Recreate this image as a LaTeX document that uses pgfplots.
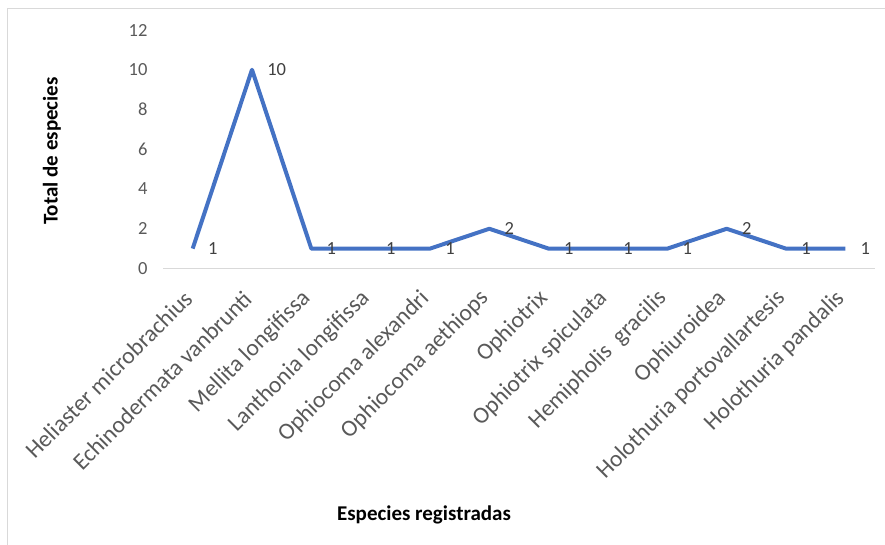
\documentclass[border=0pt]{standalone}
\usepackage{fontspec}
\setmainfont{Carlito}
\usepackage{pgfplots}
\pgfplotsset{compat=1.18}
\definecolor{serie}{HTML}{4472C4}
\definecolor{txtgray}{HTML}{595959}
\definecolor{lblgray}{HTML}{404040}
\definecolor{framegray}{HTML}{D9D9D9}
\begin{document}
\begin{tikzpicture}[x=1pt,y=1pt]
\useasboundingbox (0,0) rectangle (885,-545);
% chart area border (top and left edges)
\draw[framegray, line width=1.2pt] (7.5,-545) -- (7.5,-8.5) -- (885,-8.5);
\begin{axis}[
  at={(163pt,-268.5pt)}, anchor=south west,
  scale only axis, width=712pt, height=238.5pt,
  xmin=-0.5, xmax=11.5, ymin=0, ymax=12,
  axis x line*=bottom, axis y line*=left,
  x axis line style={draw=framegray, line width=1pt, -},
  y axis line style={draw=none},
  major tick length=0pt,
  ytick={0,2,...,12},
  xtick={0,...,11},
  xticklabels={Heliaster microbrachius, Echinodermata vanbrunti, Mellita longifissa,
    Lanthonia longifissa, Ophiocoma alexandri, Ophiocoma aethiops, Ophiotrix,
    Ophiotrix spiculata, Hemipholis\ \ gracilis, Ophiuroidea,
    Holothuria portovallartesis, Holothuria pandalis},
  /pgf/number format/assume math mode=true,
  yticklabel style={font=\fontsize{18.5}{20}\selectfont, text=txtgray, xshift=-12pt},
  xticklabel style={font=\fontsize{23.5}{26}\selectfont, text=txtgray,
    xshift=-2pt, yshift=-24pt, rotate=45, anchor=east},
  xlabel={Especies registradas},
  ylabel={Total de especies},
  xlabel style={font=\bfseries\fontsize{21}{24}\selectfont, at={(axis description cs:0.3666,-1.0335)}, anchor=center},
  ylabel style={font=\bfseries\fontsize{21}{24}\selectfont, at={(axis description cs:-0.1559,0.4927)}, anchor=center, rotate=0},
  nodes near coords,
  nodes near coords style={anchor=west, xshift=10pt, yshift=0pt,
    font=\fontsize{18.5}{20}\selectfont, text=lblgray},
  point meta=explicit symbolic,
  clip=false,
]
\addplot[serie, line width=4pt, line join=round, mark=none] coordinates {
  (0,1) [1] (1,10) [10] (2,1) [1] (3,1) [1] (4,1) [1] (5,2) [2]
  (6,1) [1] (7,1) [1] (8,1) [1] (9,2) [2] (10,1) [1] (11,1) [1]
};
\end{axis}
\end{tikzpicture}
\end{document}
